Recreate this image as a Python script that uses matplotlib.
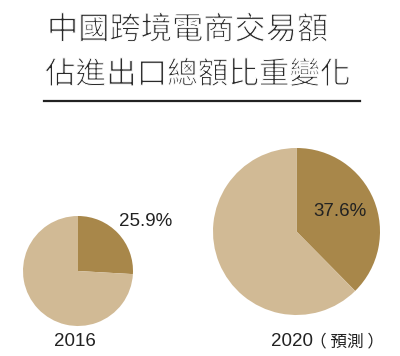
import matplotlib.pyplot as plt
import matplotlib.patheffects as pe

years = ["2016", "2020"]
year_notes = ["", "（預測）"]
shares = [25.9, 37.6]
share_labels = ["25.9%", "37.6%"]
title_lines = ["中國跨境電商交易額", "佔進出口總額比重變化"]

dark = "#a8874a"
light = "#d1ba95"

plt.rcParams['font.family'] = ['Noto Sans CJK TC', 'DejaVu Sans']

fig = plt.figure(figsize=(4, 3.56), dpi=100)
ax = fig.add_axes([0, 0, 1, 1])

H = 356
# pie positions in pixels (x, y from top, radius)
pies = [(78, 271, 55), (296.5, 231.5, 83.5)]

for (cx, cy, r), s in zip(pies, shares):
    ax.pie([s, 100 - s], colors=[dark, light], startangle=90, counterclock=False,
           center=(cx, H - cy), radius=r, wedgeprops=dict(linewidth=0))

ax.set_xlim(0, 400)
ax.set_ylim(0, H)
ax.set_aspect('auto')
ax.axis('off')

# thin the title strokes a bit (reference uses a light face)
thin = [pe.Normal(), pe.PathPatchEffect(edgecolor='white', facecolor='none', linewidth=0.7)]
ax.text(47, H - 30, title_lines[0], fontsize=22.5, color="#2a2a2a", va='center',
        ha='left', path_effects=thin)
ax.text(45, H - 75, title_lines[1], fontsize=22, color="#2a2a2a", va='center',
        ha='left', path_effects=thin)
ax.plot([44, 360], [H - 101, H - 101], color="#222222", linewidth=1.6)

num_font = dict(fontsize=13.5, family=['Liberation Sans'], color="#222222", va='center')
ax.text(146, H - 222, share_labels[0], ha='center', **num_font)
ax.text(340, H - 212, share_labels[1], ha='center', **num_font)

ax.text(75, H - 342, years[0], ha='center', **num_font)
ax.text(271, H - 342, years[1], ha='left', **num_font)
ax.text(310, H - 342, year_notes[1].replace("（", "（ ").replace("）", " ）"),
        fontsize=12, color="#222222", ha='left', va='center')

plt.savefig("out.png", dpi=100)
